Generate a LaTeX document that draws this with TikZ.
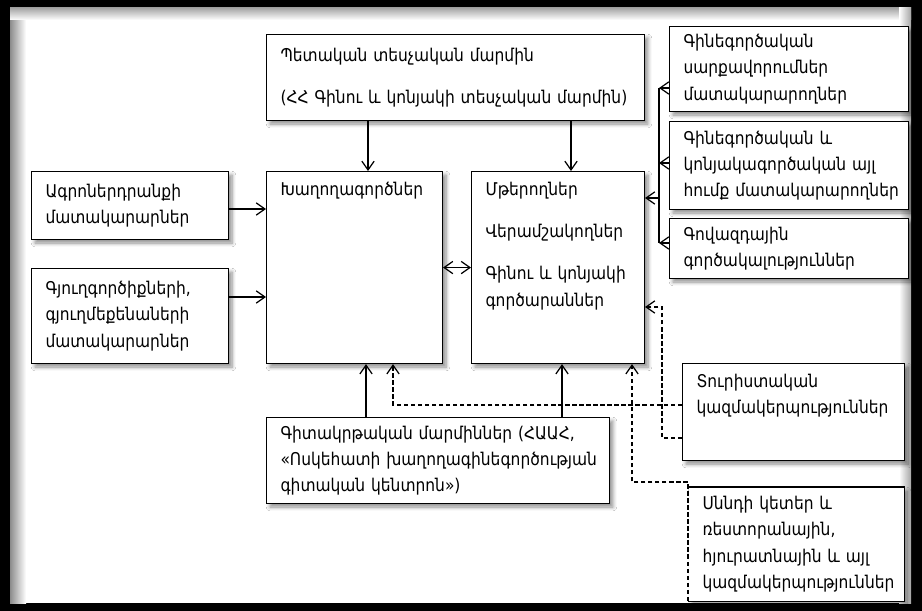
\documentclass[tikz,border=0pt]{standalone}
\usepackage{fontspec}
\setmainfont{DejaVu Sans}[FakeStretch=0.88, WordSpace=0.7]
\usepackage{tikz}
\usetikzlibrary{arrows.meta,shadows.blur}
\tikzset{%
    >={Straight Barb[length=5pt,width=7pt]},
    actor/.style={draw, fill=white, anchor=north west, align=left,
        inner xsep=0.28cm, inner ysep=2pt, line width=0.6pt,
        blur shadow={shadow xshift=2pt, shadow yshift=-2pt, shadow blur steps=6, shadow opacity=45},
        font=\fontsize{10}{15}\selectfont},
    link/.style={->, line width=0.7pt},
    dlink/.style={->, line width=0.7pt, dash pattern=on 2.5pt off 1.5pt}
}

\begin{document}
\begin{tikzpicture}[x=0.02cm, y=-0.02cm]
        \useasboundingbox (0,0) rectangle (922,611);

        % frame
        \fill (0,0) rectangle (922,611);
        \fill[white] (10,8) rectangle (911,603);
        \shade[left color=black!45, right color=white] (10,8) rectangle (26,603);
        \shade[top color=black!35, bottom color=white] (10,8) rectangle (911,20);
        \shade[left color=white, right color=black!35] (899,8) rectangle (911,603);

        % actors
        \node[actor, text width=7.00cm, minimum height=1.72cm] (gov) at (266,34)
            {Պետական տեսչական մարմին\\[9pt](ՀՀ~Գինու~և~կոնյակի~տեսչական~մարմին)};
        \node[actor, text width=4.22cm, minimum height=1.70cm] (sup1) at (669,26)
            {Գինեգործական\\սարքավորումներ\\մատակարարողներ};
        \node[actor, text width=4.22cm, minimum height=1.76cm] (sup2) at (669,121)
            {Գինեգործական~և\\կոնյակագործական~այլ\\հումք~մատակարարողներ};
        \node[actor, text width=4.22cm, minimum height=1.20cm] (adv) at (669,218)
            {Գովազդային\\գործակալություններ};
        \node[actor, text width=3.38cm, minimum height=1.36cm] (agro) at (31,171)
            {Ագրոներդրանքի\\մատակարարներ};
        \node[actor, text width=3.38cm, minimum height=1.90cm] (tools) at (31,268)
            {Գյուղգործիքների,\\գյուղմեքենաների\\մատակարարներ};
        \node[actor, inner ysep=6pt, text width=2.96cm] (grow) at (266,171)
            {\parbox[t][3.42cm][t]{2.96cm}{Խաղողագործներ}};
        \node[actor, inner ysep=6pt, text width=2.90cm] (proc) at (471,171)
            {\parbox[t][3.42cm][t]{2.90cm}{Մթերողներ\\[9pt]Վերամշակողներ\\[9pt]Գինու~և~կոնյակի\\գործարաններ}};
        \node[actor, text width=6.30cm, minimum height=1.72cm] (sci) at (266,417)
            {Գիտակրթական~մարմիններ~(ՀԱԱՀ,\\«Ոսկեհատի~խաղողագինեգործության\\գիտական կենտրոն»)};
        \node[actor, inner ysep=6pt, text width=3.88cm] (tour) at (682,363)
            {\parbox[t][1.52cm][t]{3.88cm}{Տուրիստական\\կազմակերպություններ}};
        \node[actor, draw=none, text width=3.74cm, minimum height=2.26cm] (food) at (688,487)
            {Սննդի կետեր և\\ռեստորանային,\\հյուրատնային~և~այլ\\կազմակերպություններ};
        \draw[line width=0.6pt] (food.north west) -- (food.north east) -- (food.south east) -- (food.south west);

        % connector points
        \coordinate (ga) at (368,0);
        \coordinate (gb) at (571,0);
        \coordinate (sa) at (366,0);
        \coordinate (sb) at (562,0);
        \coordinate (ya) at (0,209);
        \coordinate (yb) at (0,297);
        \coordinate (bus) at (659,0);
        \coordinate (y1) at (0,88);
        \coordinate (y2) at (0,163);
        \coordinate (y3) at (0,243);
        \coordinate (yp) at (0,198);
        \coordinate (t1) at (393,405);
        \coordinate (t2) at (662,438);
        \coordinate (t3) at (0,307);
        \coordinate (f1) at (632,482);

        % solid links
        \draw[link] (gov.south -| ga) -- (grow.north -| ga);
        \draw[link] (gov.south -| gb) -- (proc.north -| gb);
        \draw[link] (agro.east |- ya) -- (grow.west |- ya);
        \draw[link] (tools.east |- yb) -- (grow.west |- yb);
        \draw[<->, line width=0.7pt] (grow.east) -- (proc.west);
        \draw[link] (sup1.west |- y1) -- (bus |- y1);
        \draw[link] (sup2.west |- y2) -- (bus |- y2);
        \draw[link] (adv.west |- y3) -- (bus |- y3);
        \draw[line width=0.7pt] (bus |- y1) -- (bus |- y3);
        \draw[link] (bus |- yp) -- (proc.east |- yp);
        \draw[link] (sci.north -| sa) -- (grow.south -| sa);
        \draw[link] (sci.north -| sb) -- (proc.south -| sb);

        % dashed links
        \draw[dlink] (tour.west |- t1) -- (t1) -- (t1 |- grow.south);
        \draw[dlink] (tour.west |- t2) -- (t2) |- (proc.east |- t3);
        \draw[dlink] (food.south west) |- (f1) -- (f1 |- proc.south);
\end{tikzpicture}
\end{document}
